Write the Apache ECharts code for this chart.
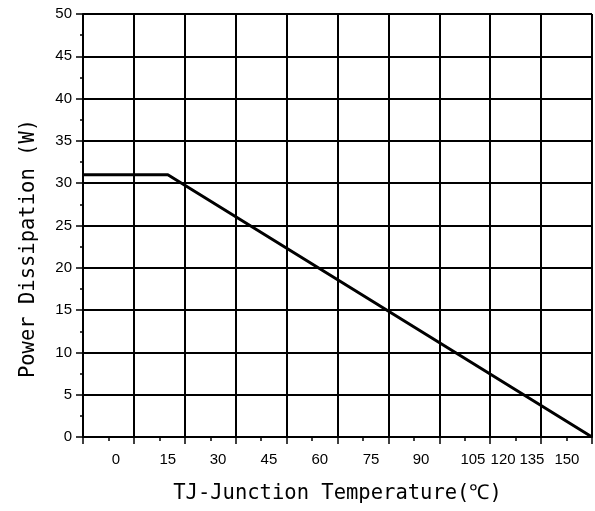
<!DOCTYPE html>
<html>
<head>
<meta charset="utf-8">
<style>
  html, body { margin: 0; padding: 0; background: #fff; }
  #chart { width: 595px; height: 511px; }
</style>
<script src="https://cdn.jsdelivr.net/npm/echarts@6/dist/echarts.min.js"></script>
</head>
<body>
<div id="chart"></div>
<script>
// derating curve: junction temperature (°C) vs allowed power (W)
const tempC = [0, 25, 150]
const powerW = [31, 31, 0]

// tick label texts as printed, and where they sit along the axis
const tempLabels = ['0', '15', '30', '45', '60', '75', '90', '105', '120', '135', '150']
const tempLabelAt = [9.7, 25, 39.8, 54.8, 69.8, 84.9, 99.6, 114.9, 123.8, 132.3, 142.6]

const chart = echarts.init(document.getElementById('chart'))

const nameFont = {
  color: '#000',
  fontFamily: 'DejaVu Sans Mono',
  fontSize: 20.5,
}

chart.setOption({
  backgroundColor: '#fff',
  animation: false,
  grid: { left: 83, right: 3, top: 14, bottom: 74 },
  xAxis: {
    type: 'value',
    min: 0,
    max: 150,
    interval: 15,
    name: 'TJ-Junction Temperature(℃)',
    nameLocation: 'middle',
    nameGap: 46,
    nameTextStyle: nameFont,
    axisLine: { onZero: false, lineStyle: { color: '#000', width: 2 } },
    axisTick: { length: 7, lineStyle: { color: '#000', width: 1.5 } },
    minorTick: { show: true, splitNumber: 2, length: 4, lineStyle: { color: '#000', width: 1.5 } },
    axisLabel: {
      customValues: tempLabelAt,
      margin: 15,
      color: '#000',
      fontFamily: 'Liberation Sans',
      fontSize: 15,
      formatter: (v) => {
        const i = tempLabelAt.findIndex((p) => Math.abs(p - v) < 0.01)
        return i >= 0 ? tempLabels[i] : ''
      },
    },
    splitLine: { show: true, lineStyle: { color: '#000', width: 2 } },
  },
  yAxis: {
    type: 'value',
    min: 0,
    max: 50,
    interval: 5,
    name: 'Power Dissipation (W)',
    nameLocation: 'middle',
    nameGap: 44,
    nameTextStyle: Object.assign({ padding: [0, 46, 0, 0] }, nameFont),
    axisLine: { show: true, lineStyle: { color: '#000', width: 2 } },
    axisTick: { show: true, length: 7, lineStyle: { color: '#000', width: 1.5 } },
    minorTick: { show: true, splitNumber: 2, length: 3, lineStyle: { color: '#000', width: 1.5 } },
    axisLabel: {
      margin: 11,
      color: '#000',
      fontFamily: 'Liberation Sans',
      fontSize: 15,
    },
    splitLine: { show: true, lineStyle: { color: '#000', width: 2 } },
  },
  series: [
    {
      type: 'line',
      data: tempC.map((t, i) => [t, powerW[i]]),
      symbol: 'none',
      lineStyle: { color: '#000', width: 3 },
    },
  ],
})
</script>
</body>
</html>
